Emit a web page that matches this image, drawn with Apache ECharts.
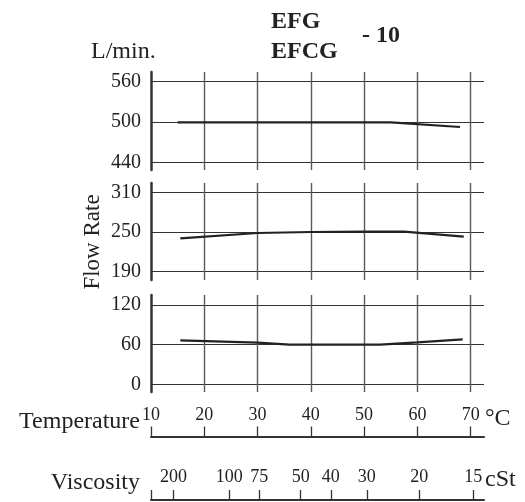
<!DOCTYPE html>
<html><head><meta charset="utf-8">
<script src="https://cdn.jsdelivr.net/npm/echarts@6/dist/echarts.min.js"></script>
<style>html,body{margin:0;padding:0;background:#fff}#c{width:525px;height:502px}</style>
</head><body><div id="c"></div>
<script>
// ---- data ----
const tempTicks = [10, 20, 30, 40, 50, 60, 70];           // °C
const gridTemps = [20, 30, 40, 50, 60, 70];                // vertical grid lines
const viscLabels = ['200', '100', '75', '50', '40', '30', '20', '15']; // cSt
const viscAtTemp = [14.24, 24.7, 30.3, 38.1, 43.75, 50.5, 60.35, 70.5]; // °C where each cSt tick sits

const p1Ticks = [440, 500, 560];
const p1Temp = [15, 55, 68];
const p1Flow = [499.5, 499.5, 492.5];

const p2Ticks = [190, 250, 310];
const p2Temp = [15.5, 30, 40, 50, 57.5, 68.7];
const p2Flow = [240.5, 248.5, 250, 250.5, 250.5, 243];

const p3Ticks = [0, 60, 120];
const p3Temp = [15.5, 30, 36, 53, 60, 68.5];
const p3Flow = [66.5, 63, 60, 60, 63.5, 68];

// ---- chart ----
const FONT = 'Liberation Serif';
const INK = '#222';
const X_MIN = 10, X_MAX = 72.5;
const zip = (a, b) => a.map((v, i) => [v, b[i]]);

const panels = [
  {top: 72, height: 98, min: 428.5, max: 574.4, ticks: p1Ticks, data: zip(p1Temp, p1Flow)},
  {top: 183, height: 97, min: 177.5, max: 324, ticks: p2Ticks, data: zip(p2Temp, p2Flow)},
  {top: 295, height: 97, min: -11.6, max: 135.1, ticks: p3Ticks, data: zip(p3Temp, p3Flow)}
];

const grid = [], xAxis = [], yAxis = [], series = [];
panels.forEach((p, i) => {
  grid.push({left: 151, width: 333, top: p.top, height: p.height});
  xAxis.push({
    gridIndex: i, type: 'value', min: X_MIN, max: X_MAX,
    axisLine: {show: false}, axisTick: {show: false, customValues: gridTemps}, axisLabel: {show: false},
    splitLine: {show: true, lineStyle: {color: '#5a5a5a', width: 1.4}}
  });
  yAxis.push({
    gridIndex: i, type: 'value', min: p.min, max: p.max,
    axisLine: {show: true, onZero: false, lineStyle: {color: '#333', width: 2.5}},
    axisTick: {show: false, customValues: p.ticks},
    axisLabel: {customValues: p.ticks, margin: 10, color: INK, fontFamily: FONT, fontSize: 20},
    splitLine: {show: true, lineStyle: {color: '#333', width: 1}}
  });
  series.push({
    type: 'line', xAxisIndex: i, yAxisIndex: i, data: p.data,
    showSymbol: false, symbol: 'none', silent: true,
    lineStyle: {color: INK, width: 2.2}
  });
});

// temperature scale
grid.push({left: 151, width: 333, top: 436.5, height: 10});
xAxis.push({
  gridIndex: 3, type: 'value', position: 'top', min: X_MIN, max: X_MAX,
  axisLine: {show: true, onZero: false, lineStyle: {color: '#333', width: 2}},
  axisTick: {show: true, length: 10, lineStyle: {color: '#333', width: 1.3}, customValues: tempTicks},
  axisLabel: {show: true, margin: 12, color: INK, fontFamily: FONT, fontSize: 18,
    customValues: tempTicks, formatter: v => String(v)},
  splitLine: {show: false}
});
yAxis.push({gridIndex: 3, show: false, min: 0, max: 1});

// viscosity scale
grid.push({left: 151, width: 333, top: 500, height: 1});
xAxis.push({
  gridIndex: 4, type: 'value', position: 'top', min: X_MIN, max: X_MAX,
  axisLine: {show: true, onZero: false, lineStyle: {color: '#333', width: 2}},
  axisTick: {show: true, length: 10, lineStyle: {color: '#333', width: 1.3},
    customValues: [X_MIN].concat(viscAtTemp)},
  axisLabel: {show: true, margin: 14, color: INK, fontFamily: FONT, fontSize: 18,
    customValues: viscAtTemp,
    formatter: v => {
      let best = 0;
      viscAtTemp.forEach((t, i) => { if (Math.abs(t - v) < Math.abs(viscAtTemp[best] - v)) best = i; });
      return viscLabels[best];
    }},
  splitLine: {show: false}
});
yAxis.push({gridIndex: 4, show: false, min: 0, max: 1});

const txt = (text, x, y, o) => ({type: 'text', x, y, silent: true,
  style: Object.assign({text, fill: INK, font: '24px "' + FONT + '"', textVerticalAlign: 'middle'}, o || {})});

const graphic = [
  txt('EFG', 271, 22, {font: 'bold 24px "' + FONT + '"'}),
  txt('EFCG', 271, 52, {font: 'bold 24px "' + FONT + '"'}),
  txt('- 10', 362, 36, {font: 'bold 24px "' + FONT + '"'}),
  txt('L/min.', 91, 52),
  {type: 'text', x: 93, y: 242, rotation: Math.PI / 2, silent: true,
   style: {text: 'Flow Rate', fill: INK, font: '23px "' + FONT + '"', textAlign: 'center', textVerticalAlign: 'middle'}},
  txt('Temperature', 140, 422, {textAlign: 'right'}),
  txt('°C', 485, 419),
  txt('Viscosity', 140, 483, {textAlign: 'right'}),
  txt('cSt', 485, 480)
];

const chart = echarts.init(document.getElementById('c'), null, {renderer: 'canvas'});
chart.setOption({animation: false, grid, xAxis, yAxis, series, graphic});
</script></body></html>
